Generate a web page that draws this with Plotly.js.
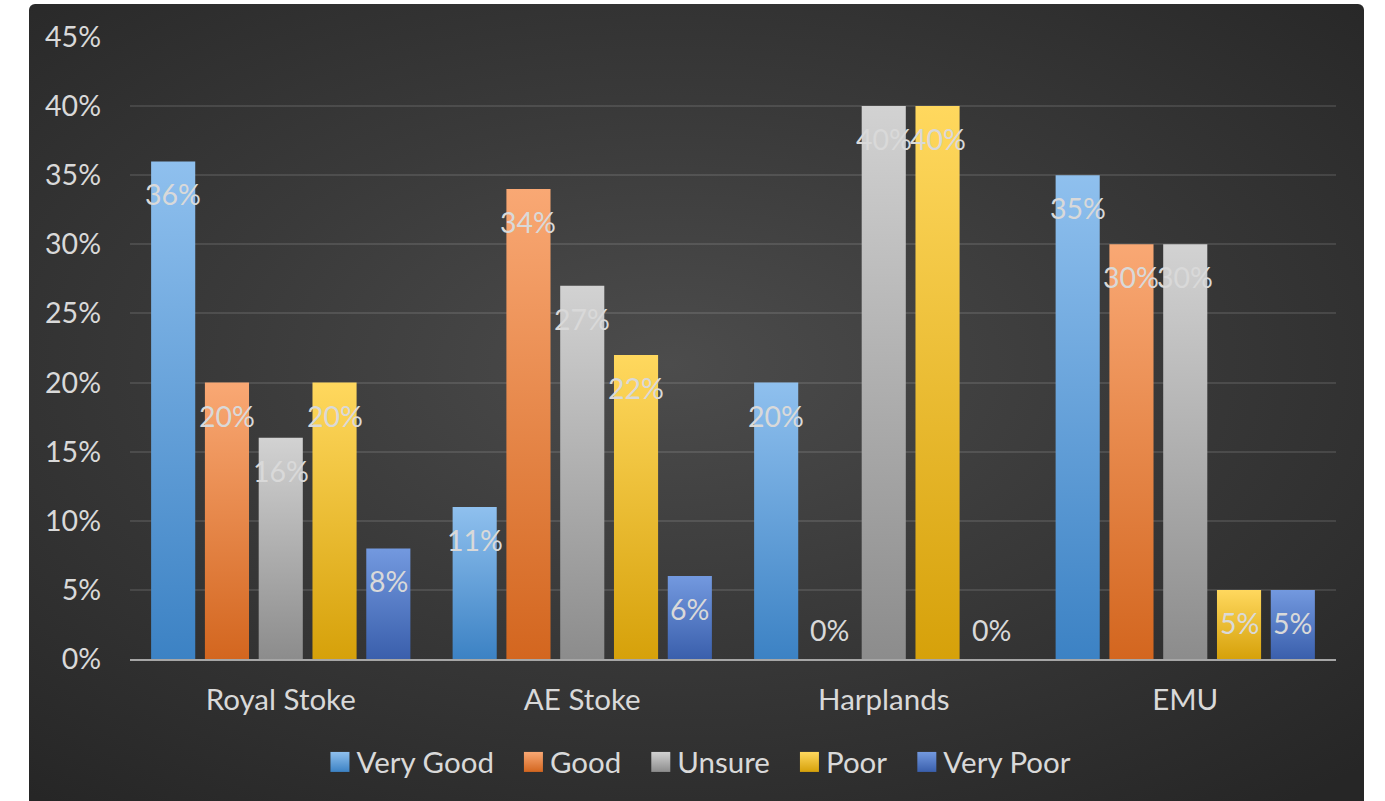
<!DOCTYPE html>
<html>
<head>
<meta charset="utf-8">
<script src="https://cdn.plot.ly/plotly-3.0.1.min.js"></script>
<style>
  html, body { margin: 0; padding: 0; background: #ffffff; width: 1385px; height: 801px; overflow: hidden; }
  #bg { position: absolute; left: 29px; top: 4px; width: 1335px; height: 800px; border-radius: 6px 6px 0 0;
        background: radial-gradient(ellipse 75% 70% at 48% 45%, #4c4c4c 0%, #3a3a3a 45%, #262626 100%); }
  #chart { position: absolute; left: 0; top: 0; width: 1385px; height: 801px; }
</style>
</head>
<body>
<div id="bg"></div>
<div id="chart"></div>
<script>
const categories = ["Royal Stoke", "AE Stoke", "Harplands", "EMU"];
const seriesNames = ["Very Good", "Good", "Unsure", "Poor", "Very Poor"];
const veryGood = [36, 11, 20, 35];
const good     = [20, 34, 0, 30];
const unsure   = [16, 27, 40, 30];
const poor     = [20, 22, 40, 5];
const veryPoor = [8, 6, 0, 5];
const seriesValues = [veryGood, good, unsure, poor, veryPoor];

const midColors = ["#5e9ddb", "#e9854a", "#b0b0b0", "#f2bf33", "#587fcb"];
const gradTop    = ["#8fc0ee", "#f9a874", "#d2d2d2", "#ffd85e", "#7399df"];
const gradBottom = ["#3c82c4", "#d3661f", "#8c8c8c", "#d6a10a", "#3a5fac"];

const bargap = 0.108;
const bargroupgap = 0.18;
const labelColor = "#d9d9d9";
const fontFam = "Lato, 'Open Sans', sans-serif";
const numFont = 28.5;
const textFont = 29.5;
const legendExtraGap = 11;

const data = seriesNames.map((name, i) => ({
  type: "bar",
  name: name,
  x: categories,
  y: seriesValues[i],
  marker: { color: midColors[i], line: { width: 0 } },
  hoverinfo: "skip"
}));

const annotations = [];
const slot = (1 - bargap) / seriesNames.length;
seriesValues.forEach((vals, si) => {
  vals.forEach((v, ci) => {
    annotations.push({
      xref: "x", yref: "y",
      x: ci + (si - (seriesNames.length - 1) / 2) * slot,
      y: v,
      text: v + "%",
      showarrow: false,
      yshift: v > 0 ? -33 : 29,
      font: { family: fontFam, size: numFont, color: labelColor }
    });
  });
});

const layout = {
  width: 1385, height: 801,
  margin: { l: 130, r: 49, t: 37, b: 142 },
  paper_bgcolor: "rgba(0,0,0,0)",
  plot_bgcolor: "rgba(0,0,0,0)",
  barmode: "group",
  bargap: bargap,
  bargroupgap: bargroupgap,
  font: { family: fontFam, size: numFont, color: labelColor },
  xaxis: {
    type: "category",
    showgrid: false,
    showline: true, linecolor: "#a6a6a6", linewidth: 2,
    ticks: "", ticklabelstandoff: 14,
    tickfont: { family: fontFam, size: textFont, color: labelColor },
    zeroline: false, fixedrange: true
  },
  yaxis: {
    range: [0, 45], dtick: 5, tick0: 0,
    ticksuffix: "%",
    showgrid: true, gridcolor: "rgba(255,255,255,0.11)", gridwidth: 2,
    zeroline: false, showline: false,
    ticks: "", ticklabelstandoff: 28,
    tickfont: { family: fontFam, size: numFont, color: labelColor },
    fixedrange: true
  },
  showlegend: true,
  legend: {
    orientation: "h",
    x: 0.4697, xanchor: "center",
    y: -0.166, yanchor: "middle",
    font: { family: fontFam, size: textFont, color: labelColor },
    bgcolor: "rgba(0,0,0,0)",
    itemwidth: 30,
    traceorder: "normal"
  },
  annotations: annotations
};

function parseTranslate(t) {
  const m = /translate\(\s*([-\d.e]+)[ ,]+([-\d.e]+)\s*\)/.exec(t || "");
  return m ? [parseFloat(m[1]), parseFloat(m[2])] : [0, 0];
}

Plotly.newPlot("chart", data, layout, { displayModeBar: false, staticPlot: true }).then(gd => {
  const svgNS = "http://www.w3.org/2000/svg";
  const svg = gd.querySelector(".main-svg");
  let defs = svg.querySelector("defs");
  if (!defs) { defs = document.createElementNS(svgNS, "defs"); svg.insertBefore(defs, svg.firstChild); }
  seriesNames.forEach((n, i) => {
    const lg = document.createElementNS(svgNS, "linearGradient");
    lg.setAttribute("id", "barGrad" + i);
    lg.setAttribute("x1", "0"); lg.setAttribute("y1", "0");
    lg.setAttribute("x2", "0"); lg.setAttribute("y2", "1");
    const s1 = document.createElementNS(svgNS, "stop");
    s1.setAttribute("offset", "0"); s1.setAttribute("stop-color", gradTop[i]);
    const s2 = document.createElementNS(svgNS, "stop");
    s2.setAttribute("offset", "1"); s2.setAttribute("stop-color", gradBottom[i]);
    lg.appendChild(s1); lg.appendChild(s2);
    defs.appendChild(lg);
  });
  gd.querySelectorAll(".barlayer .trace").forEach((tr, i) => {
    tr.querySelectorAll("path").forEach(p => { p.style.fill = "url(#barGrad" + i + ")"; });
  });
  const items = gd.querySelectorAll(".legend .traces");
  items.forEach((tr, i) => {
    tr.querySelectorAll(".legendpoints path").forEach(p => {
      p.setAttribute("d", "M-6,-10H13V10H-6Z");
      p.style.fill = "url(#barGrad" + i + ")";
    });
    const [tx, ty] = parseTranslate(tr.getAttribute("transform"));
    tr.setAttribute("transform", "translate(" + (tx + i * legendExtraGap) + "," + ty + ")");
  });
  const leg = gd.querySelector(".legend");
  if (leg) {
    const [lx, ly] = parseTranslate(leg.getAttribute("transform"));
    leg.setAttribute("transform", "translate(" + (lx - (items.length - 1) * legendExtraGap / 2) + "," + ly + ")");
    leg.querySelectorAll("[clip-path]").forEach(el => el.removeAttribute("clip-path"));
  }
});
</script>
</body>
</html>
